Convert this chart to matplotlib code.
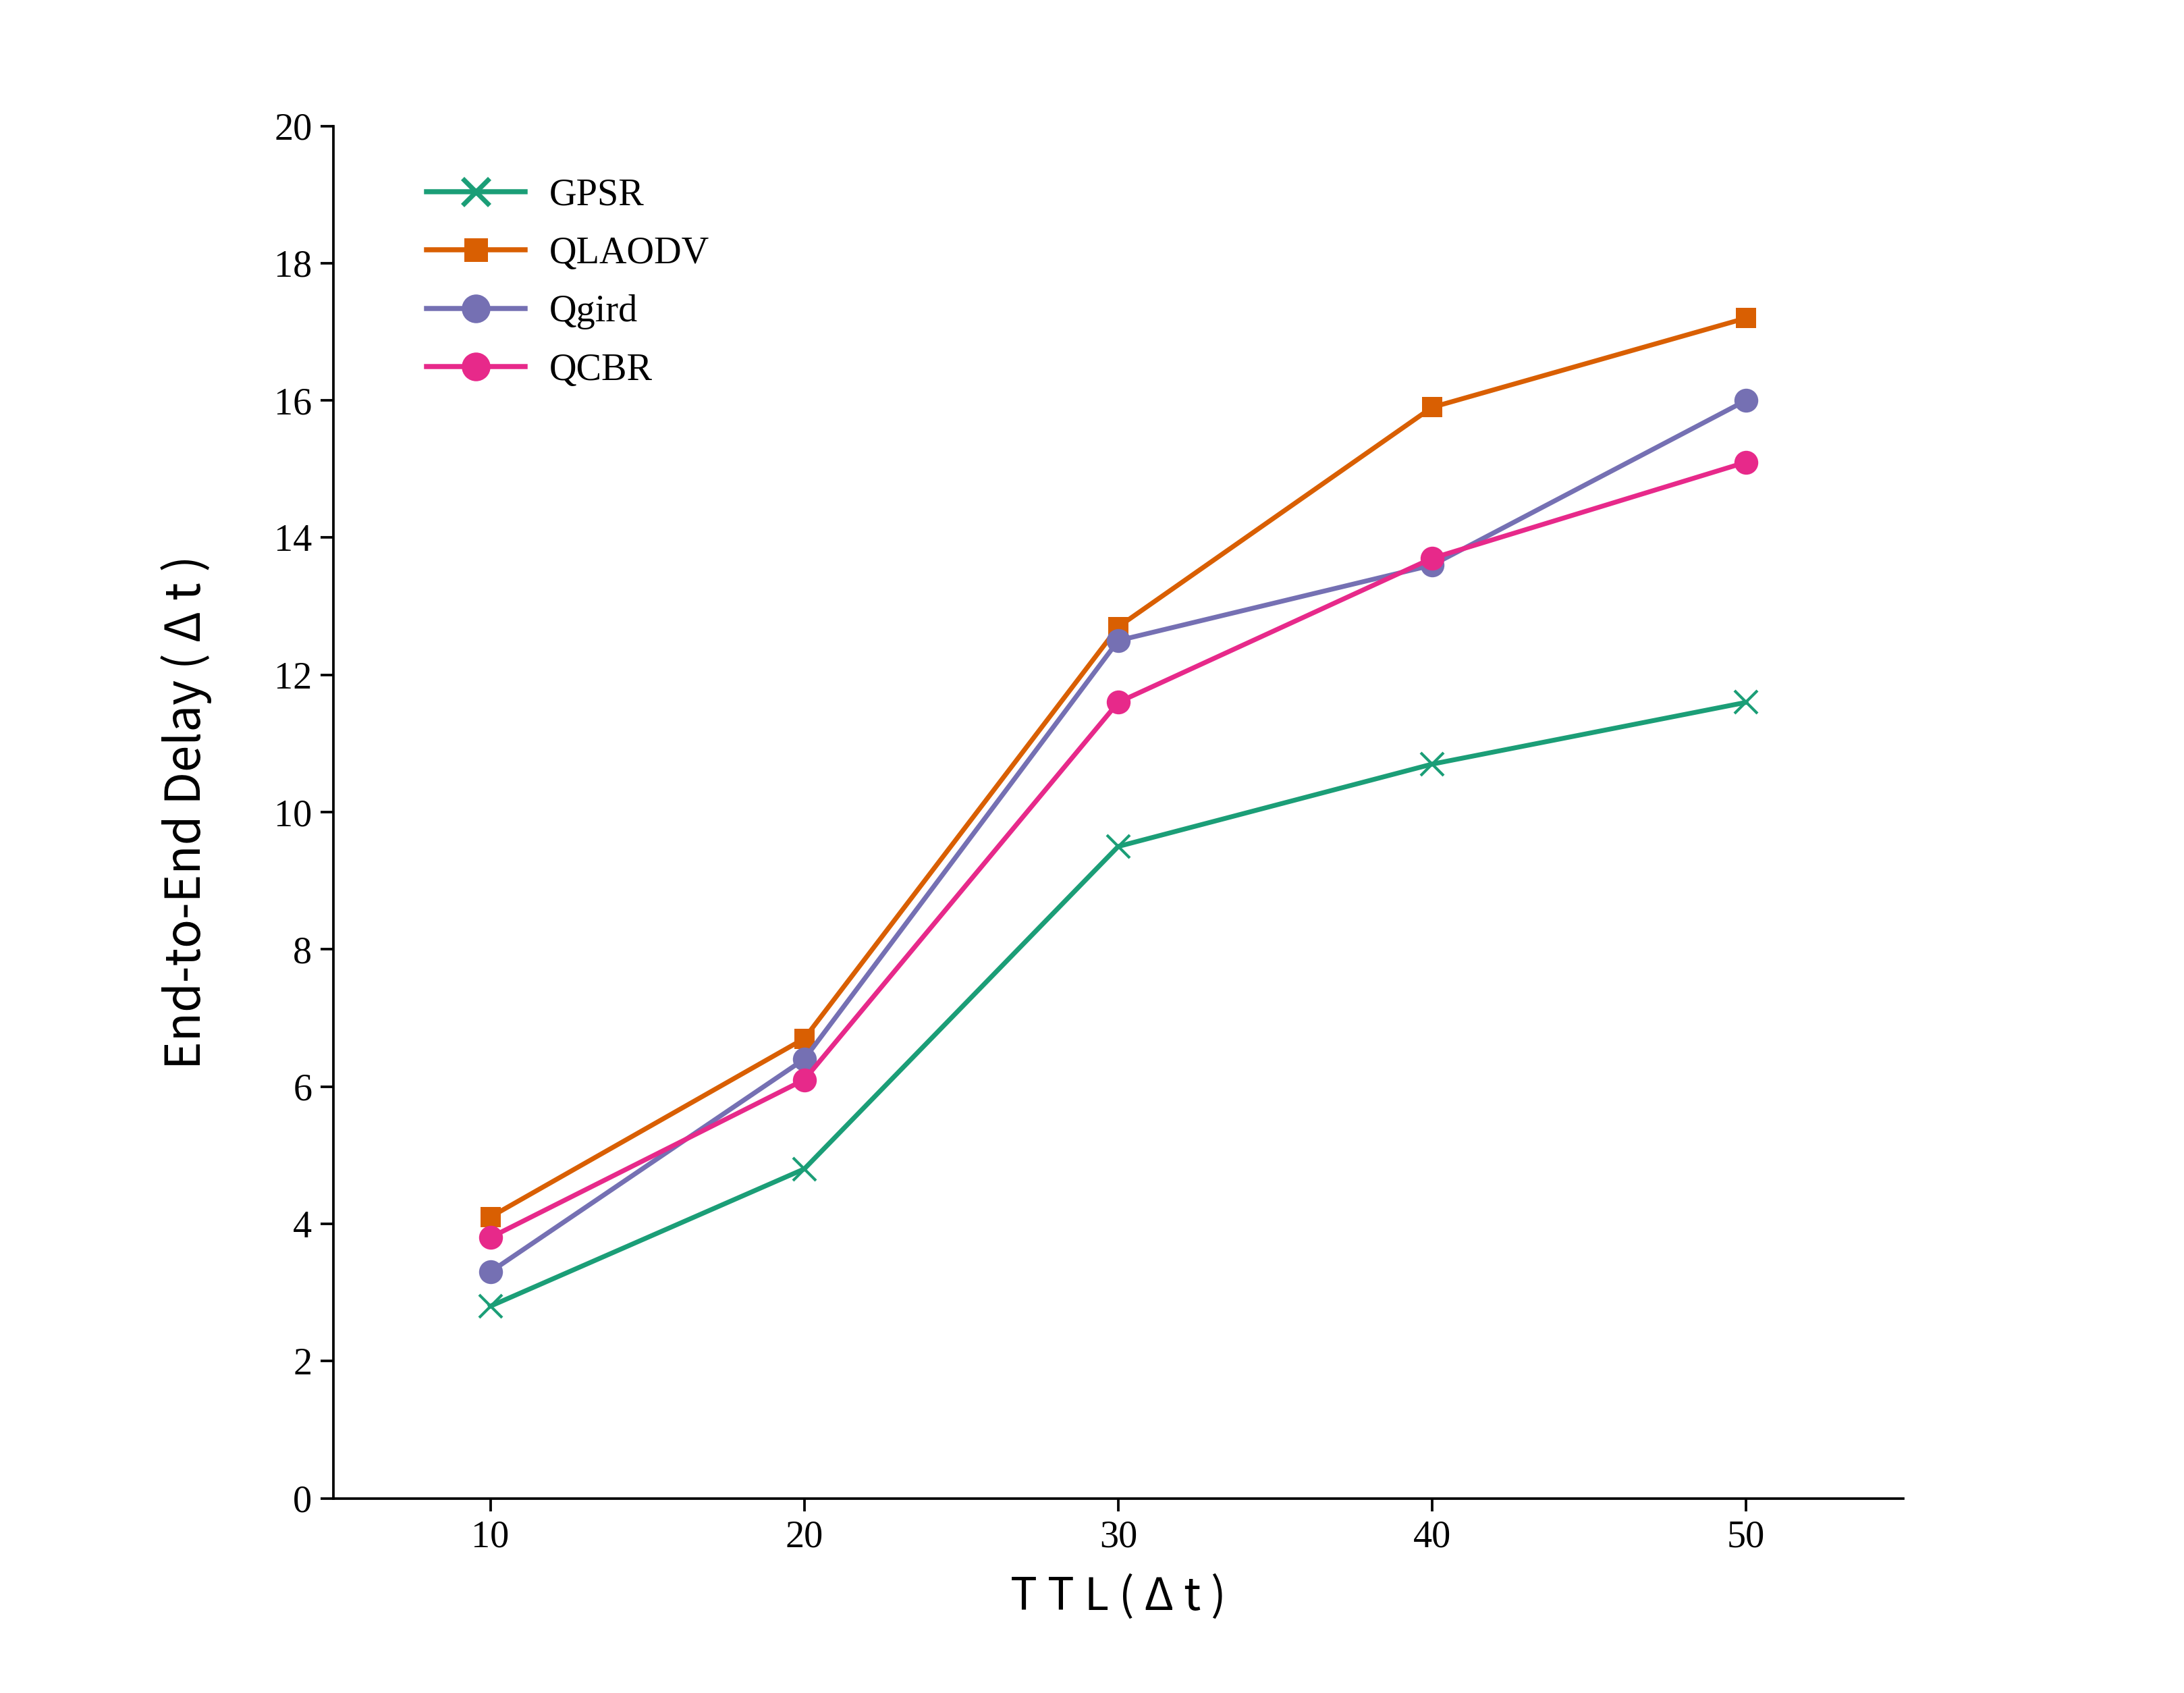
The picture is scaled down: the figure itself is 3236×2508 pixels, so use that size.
import matplotlib
matplotlib.use("Agg")
from matplotlib import pyplot as plt
import numpy as np

ttl = [10, 20, 30, 40, 50]
gpsr = [2.8, 4.8, 9.5, 10.7, 11.6]
qlaodv = [4.1, 6.7, 12.7, 15.9, 17.2]
qgird = [3.3, 6.4, 12.5, 13.6, 16.0]
qcbr = [3.8, 6.1, 11.6, 13.7, 15.1]

labels = ["GPSR", "QLAODV", "Qgird", "QCBR"]
y_ticks = [0, 2, 4, 6, 8, 10, 12, 14, 16, 18, 20]

serif = ["Liberation Serif", "DejaVu Serif"]
sans = ["Noto Sans CJK SC", "DejaVu Sans"]

fig = plt.figure(figsize=(3237 / 300, 2508 / 300), dpi=300)
ax = fig.add_axes([0.1526, 0.115, 0.7185, 0.8106])

lw = 1.7
ax.plot(ttl, gpsr, color="#1b9e77", lw=lw, marker="x", ms=8, mew=1.0, label=labels[0])
ax.plot(ttl, qlaodv, color="#d95f02", lw=lw, marker="s", ms=7, mew=0, label=labels[1])
ax.plot(ttl, qgird, color="#7570b3", lw=lw, marker="o", ms=8.5, mew=0, label=labels[2])
ax.plot(ttl, qcbr, color="#e7298a", lw=lw, marker="o", ms=8.5, mew=0, label=labels[3])

ax.set_xlim(5, 55)
ax.set_ylim(0, 20)
ax.set_xticks(ttl)
ax.set_yticks(y_ticks)

for s in ["top", "right"]:
    ax.spines[s].set_visible(False)
for s in ["left", "bottom"]:
    ax.spines[s].set_linewidth(0.9)

ax.tick_params(direction="out", length=4.6, width=0.9, pad=3, labelsize=13.5)
for t in ax.get_xticklabels() + ax.get_yticklabels():
    t.set_fontfamily(serif)

ax.set_xlabel("T T L ( Δ t )", family=sans, fontweight="light", fontsize=16, labelpad=7)
ax.set_ylabel("End-to-End Delay ( Δ t )", family=sans, fontweight="light", fontsize=17, labelpad=22)

leg = ax.legend(loc="upper left", bbox_to_anchor=(0.0594, 0.962), frameon=False, borderpad=0,
                borderaxespad=0, prop={"family": serif, "size": 13.5}, markerscale=1.2,
                handlelength=2.6, handletextpad=0.63, labelspacing=0.61)
for h in leg.get_lines():
    h.set_linewidth(1.8)
    if h.get_marker() == "x":
        h.set_markeredgewidth(1.7)

fig.savefig("out.png", dpi=300, facecolor="white")
